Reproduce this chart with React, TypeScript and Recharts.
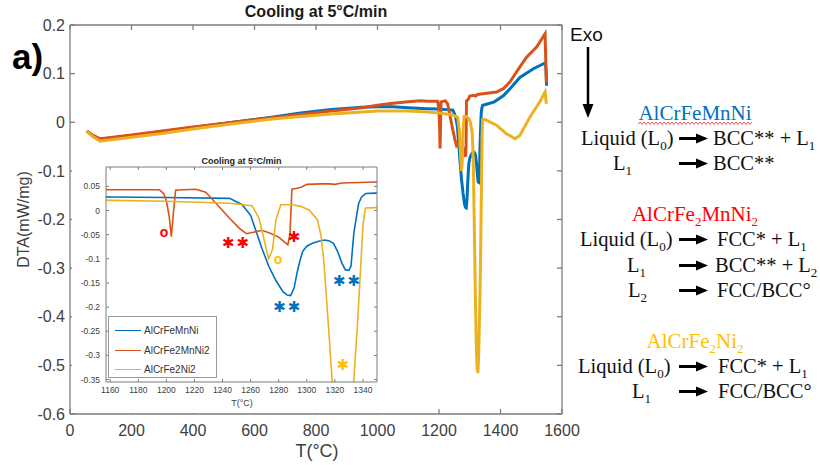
import React from 'react';
import { LineChart, Line, XAxis, YAxis, Legend, ReferenceDot } from 'recharts';

const seriesNames = ['AlCrFeMnNi', 'AlCrFe2MnNi2', 'AlCrFe2Ni2'];
const seriesColors = ['#0072BD', '#D95319', '#EDB120'];

const tBlue = [54, 75, 98, 200, 300, 400, 530, 650, 750, 850, 950, 1000, 1050, 1100, 1160, 1200, 1245, 1254, 1260, 1264, 1268, 1273, 1278, 1283, 1286, 1288.5, 1291, 1293, 1295, 1297, 1300, 1304, 1309, 1313, 1316, 1319, 1322, 1325, 1327.5, 1330, 1331.5, 1333.5, 1335.5, 1337, 1339, 1342, 1349, 1380, 1410, 1431, 1463, 1507, 1545, 1548, 1550];
const vBlue = [-0.018, -0.028, -0.035, -0.027, -0.019, -0.011, 0, 0.010, 0.019, 0.026, 0.031, 0.032, 0.032, 0.030, 0.028, 0.027, 0.025, 0.012, -0.010, -0.044, -0.078, -0.116, -0.145, -0.168, -0.175, -0.176, -0.160, -0.130, -0.105, -0.085, -0.074, -0.068, -0.063, -0.061, -0.063, -0.068, -0.085, -0.109, -0.123, -0.124, -0.115, -0.047, -0.010, 0.015, 0.028, 0.035, 0.036, 0.042, 0.055, 0.069, 0.092, 0.110, 0.122, 0.110, 0.075];

const tOrange = [54, 75, 98, 200, 300, 400, 530, 650, 750, 850, 950, 1000, 1050, 1100, 1140, 1160, 1195, 1198, 1200, 1202, 1203.5, 1205, 1206.6, 1212, 1221, 1228, 1234, 1240, 1245, 1252, 1257, 1262, 1268, 1274, 1280, 1284, 1286.5, 1288, 1289.4, 1293, 1296, 1300, 1310, 1316, 1320, 1325, 1349, 1387, 1409, 1431, 1463, 1485, 1518, 1545, 1549];
const vOrange = [-0.018, -0.027, -0.034, -0.026, -0.018, -0.010, 0, 0.009, 0.016, 0.023, 0.030, 0.035, 0.039, 0.042, 0.044, 0.043, 0.043, 0.035, 0.020, -0.012, -0.054, -0.005, 0.042, 0.043, 0.044, 0.038, 0.019, 0.0, -0.016, -0.037, -0.048, -0.045, -0.041, -0.047, -0.055, -0.065, -0.071, -0.050, 0.044, 0.046, 0.048, 0.054, 0.055, 0.055, 0.054, 0.057, 0.059, 0.062, 0.069, 0.083, 0.114, 0.134, 0.155, 0.182, 0.082];

const tYellow = [54, 75, 98, 200, 300, 400, 530, 650, 750, 850, 950, 1000, 1100, 1160, 1200, 1245, 1261, 1266, 1269.7, 1272.8, 1275.6, 1278, 1281.5, 1290, 1296, 1301.6, 1307.5, 1310, 1312, 1315.7, 1318, 1321, 1324, 1326.5, 1329, 1331, 1333.5, 1336, 1338, 1340, 1341.7, 1349, 1387, 1418, 1447, 1463, 1496, 1528, 1545, 1549];
const vYellow = [-0.018, -0.030, -0.039, -0.031, -0.023, -0.014, -0.003, 0.006, 0.012, 0.017, 0.021, 0.023, 0.023, 0.021, 0.019, 0.015, 0.010, -0.016, -0.062, -0.100, -0.081, -0.020, 0.012, 0.012, 0.008, 0.001, -0.019, -0.050, -0.100, -0.250, -0.350, -0.450, -0.505, -0.516, -0.480, -0.420, -0.350, -0.240, -0.137, -0.030, 0.005, 0.006, -0.006, -0.023, -0.034, -0.027, 0.011, 0.042, 0.062, 0.038];

const mainXTicks = [0, 200, 400, 600, 800, 1000, 1200, 1400, 1600];
const mainYTicks = [-0.6, -0.5, -0.4, -0.3, -0.2, -0.1, 0, 0.1, 0.2];
const insetXTicks = [1160, 1180, 1200, 1220, 1240, 1260, 1280, 1300, 1320, 1340];
const insetYTicks = [-0.35, -0.3, -0.25, -0.2, -0.15, -0.1, -0.05, 0, 0.05];

// inset annotations
const annoT = [1198.3, 1250, 1291.7, 1279.6, 1286.5, 1329, 1326.4];
const annoV = [-0.0436, -0.068, -0.055, -0.1, -0.199, -0.145, -0.32];
const annoText = ['o', '✱✱', '✱', 'o', '✱✱', '✱✱', '✱'];
const annoColor = ['#FF0000', '#FF0000', '#FF0000', '#FFC000', '#0070C0', '#0070C0', '#FFC000'];

const zip = (ts: number[], vs: number[]) => ts.map((T, i) => ({ T, v: vs[i] }));
const seriesData = [zip(tBlue, vBlue), zip(tOrange, vOrange), zip(tYellow, vYellow)];

const SANS = 'Liberation Sans, Arial, sans-serif';
const SERIF = 'Liberation Serif, Times New Roman, serif';
const AXIS = '#7d7d7d';
const TXT = '#404040';

const EmptyTick = () => <g />;

function InsetLegend(props: any) {
  const items = [...(props.payload || [])]
    .filter((a: any) => seriesNames.indexOf(a.value) >= 0)
    .sort((a: any, b: any) => seriesNames.indexOf(a.value) - seriesNames.indexOf(b.value));
  return (
    <div style={{ width: 109, height: 62, boxSizing: 'border-box', border: '1px solid #9a9a9a', background: '#fff', paddingTop: 4 }}>
      {items.map((it: any) => (
        <div key={it.value} style={{ height: 19.5, display: 'flex', alignItems: 'center', fontFamily: SANS, fontSize: 10, color: '#333' }}>
          <span style={{ display: 'inline-block', width: 26, height: 0, borderTop: `1.8px solid ${seriesColors[seriesNames.indexOf(it.value)]}`, marginLeft: 6, marginRight: 3 }} />
          <span>{it.value}</span>
        </div>
      ))}
    </div>
  );
}

function Anno(text: string, color: string) {
  const ring = text === 'o';
  return (p: any) => (
    <text x={p.cx} y={p.cy} textAnchor="middle" dominantBaseline="central"
      fill={color}
      style={{ fontFamily: ring ? SANS : 'DejaVu Sans, sans-serif', fontWeight: 700, fontSize: ring ? 14 : 15, letterSpacing: ring ? 0 : 2 }}>
      {text}
    </text>
  );
}

function Arrow({ x1, x2, y }: { x1: number; x2: number; y: number }) {
  return (
    <g>
      <line x1={x1} y1={y} x2={x2 - 10} y2={y} stroke="#000" strokeWidth={3} />
      <polygon points={`${x2 - 12},${y - 5} ${x2},${y} ${x2 - 12},${y + 5}`} fill="#000" />
    </g>
  );
}

export default function App() {
  const squiggle = Array.from({ length: 58 }, (_, i) => `${638 + i * 2},${i % 2 ? 122 : 124.5}`).join(' ');
  const tstyle = { fontFamily: SERIF, fontSize: 20.5 };
  const line = (y: number, left: React.ReactNode, lx: number, right: React.ReactNode, rx: number) => (
    <g>
      <text x={lx} y={y} style={tstyle} fill="#111">{left}</text>
      <Arrow x1={679} x2={708} y={y - 6.5} />
      <text x={rx} y={y} style={tstyle} fill="#111">{right}</text>
    </g>
  );
  const sub = (c: string) => <tspan dy={5} fontSize={13}>{c}</tspan>;
  const back = (c: string) => <tspan dy={-5}>{c}</tspan>;
  return (
    <div style={{ position: 'absolute', left: 0, top: 0, width: 820, height: 465, background: '#fff' }}>
      <div style={{ position: 'absolute', left: 0, top: 0 }}>
        <LineChart width={820} height={465} margin={{ top: 24, right: 257, bottom: 0, left: 0 }}>
          <XAxis xAxisId="b" type="number" dataKey="T" domain={[0, 1600]} ticks={mainXTicks} interval={0}
            height={51} tickSize={-5} tickMargin={16} stroke={AXIS} strokeWidth={1.3}
            tick={{ fill: TXT, fontSize: 16, fontFamily: SANS }} />
          <XAxis xAxisId="t" orientation="top" type="number" dataKey="T" domain={[0, 1600]} ticks={mainXTicks} interval={0}
            height={1} tickSize={-5} stroke={AXIS} strokeWidth={1.3} tick={EmptyTick} />
          <YAxis yAxisId="l" type="number" domain={[-0.6, 0.2]} ticks={mainYTicks} interval={0}
            width={70} tickSize={-5} tickMargin={10} stroke={AXIS} strokeWidth={1.3}
            tick={{ fill: TXT, fontSize: 16, fontFamily: SANS }} />
          <YAxis yAxisId="r" orientation="right" type="number" domain={[-0.6, 0.2]} ticks={mainYTicks} interval={0}
            width={1} tickSize={-5} stroke={AXIS} strokeWidth={1.3} tick={EmptyTick} />
          <Line xAxisId="t" yAxisId="r" data={seriesData[0]} dataKey="v" stroke="none" strokeWidth={0}
            dot={false} activeDot={false} legendType="none" isAnimationActive={false} />
          {seriesData.map((d, i) => (
            <Line key={seriesNames[i]} xAxisId="b" yAxisId="l" data={d} dataKey="v" name={seriesNames[i]}
              type="linear" stroke={seriesColors[i]} strokeWidth={3} dot={false} isAnimationActive={false} />
          ))}
        </LineChart>
      </div>

      <div style={{ position: 'absolute', left: 72, top: 148, width: 310, height: 265, background: '#fff' }}>
        <LineChart width={310} height={265} margin={{ top: 18, right: 4, bottom: 0, left: 0 }}>
          <XAxis xAxisId="b" type="number" dataKey="T" domain={[1157, 1350]} allowDataOverflow ticks={insetXTicks} interval={0}
            height={31} tickSize={-3} tickMargin={8} stroke={AXIS} strokeWidth={1}
            tick={{ fill: TXT, fontSize: 8.5, fontFamily: SANS }} />
          <XAxis xAxisId="t" orientation="top" type="number" dataKey="T" domain={[1157, 1350]} allowDataOverflow ticks={insetXTicks} interval={0}
            height={1} tickSize={-3} stroke={AXIS} strokeWidth={1} tick={EmptyTick} />
          <YAxis yAxisId="l" type="number" domain={[-0.355, 0.09]} allowDataOverflow ticks={insetYTicks} interval={0}
            width={34} tickSize={-3} tickMargin={9} stroke={AXIS} strokeWidth={1}
            tick={{ fill: TXT, fontSize: 8.5, fontFamily: SANS }} />
          <YAxis yAxisId="r" orientation="right" type="number" domain={[-0.355, 0.09]} allowDataOverflow ticks={insetYTicks} interval={0}
            width={1} tickSize={-3} stroke={AXIS} strokeWidth={1} tick={EmptyTick} />
          <Line xAxisId="t" yAxisId="r" data={seriesData[0]} dataKey="v" stroke="none" strokeWidth={0}
            dot={false} activeDot={false} legendType="none" isAnimationActive={false} />
          {seriesData.map((d, i) => (
            <Line key={seriesNames[i]} xAxisId="b" yAxisId="l" data={d} dataKey="v" name={seriesNames[i]}
              type="linear" stroke={seriesColors[i]} strokeWidth={1.6} dot={false} isAnimationActive={false} />
          ))}
          {annoT.map((T, i) => (
            <ReferenceDot key={i} xAxisId="b" yAxisId="l" x={T} y={annoV[i]} r={0}
              shape={Anno(annoText[i], annoColor[i])} />
          ))}
          <Legend layout="vertical" align="center" verticalAlign="middle"
            wrapperStyle={{ left: 36, top: 168, width: 109, height: 62 }} content={InsetLegend} />
        </LineChart>
      </div>

      <svg width={820} height={465} style={{ position: 'absolute', left: 0, top: 0, pointerEvents: 'none' }}>
        <text x={316} y={17} textAnchor="middle" style={{ fontFamily: SANS, fontWeight: 700, fontSize: 16 }} fill="#1a1a1a">Cooling at 5°C/min</text>
        <text x={12} y={69} style={{ fontFamily: SANS, fontWeight: 700, fontSize: 35 }} fill="#000">a)</text>
        <text x={29} y={219.5} textAnchor="middle" transform="rotate(-90 29 219.5)" style={{ fontFamily: SANS, fontSize: 16 }} fill={TXT}>DTA(mW/mg)</text>
        <text x={317} y={457} textAnchor="middle" style={{ fontFamily: SANS, fontSize: 18 }} fill={TXT}>T(°C)</text>

        <text x={241.5} y={163.5} textAnchor="middle" style={{ fontFamily: SANS, fontWeight: 700, fontSize: 9 }} fill="#222">Cooling at 5°C/min</text>
        <text x={242} y={406} textAnchor="middle" style={{ fontFamily: SANS, fontSize: 9 }} fill={TXT}>T(°C)</text>

        <text x={570} y={41} style={{ fontFamily: SANS, fontSize: 19 }} fill="#111">Exo</text>
        <line x1={588} y1={47} x2={588} y2={108} stroke="#000" strokeWidth={2.5} />
        <polygon points="582.5,104 588,118 593.5,104" fill="#000" />

        <text x={695} y={120} textAnchor="middle" style={{ fontFamily: SERIF, fontSize: 21 }} fill="#0070C0">AlCrFeMnNi</text>
        <polyline points={squiggle} fill="none" stroke="#FF3030" strokeWidth={0.8} />
        {line(145, <>Liquid (L{sub('0')}{back(')')}</>, 581, <>BCC** + L{sub('1')}</>, 713)}
        {line(170, <>L{sub('1')}</>, 613, <>BCC**</>, 713)}

        <text x={695} y={221} textAnchor="middle" style={{ fontFamily: SERIF, fontSize: 21 }} fill="#FF0000">AlCrFe{sub('2')}{back('MnNi')}{sub('2')}</text>
        {line(246, <>Liquid (L{sub('0')}{back(')')}</>, 580, <>FCC* + L{sub('1')}</>, 717)}
        {line(272, <>L{sub('1')}</>, 627, <>BCC** + L{sub('2')}</>, 715)}
        {line(297, <>L{sub('2')}</>, 628, <>FCC/BCC°</>, 717)}

        <text x={695} y={348} textAnchor="middle" style={{ fontFamily: SERIF, fontSize: 21 }} fill="#FFC000">AlCrFe{sub('2')}{back('Ni')}{sub('2')}</text>
        {line(373, <>Liquid (L{sub('0')}{back(')')}</>, 578, <>FCC* + L{sub('1')}</>, 718)}
        {line(398, <>L{sub('1')}</>, 632, <>FCC/BCC°</>, 718)}
      </svg>
    </div>
  );
}
